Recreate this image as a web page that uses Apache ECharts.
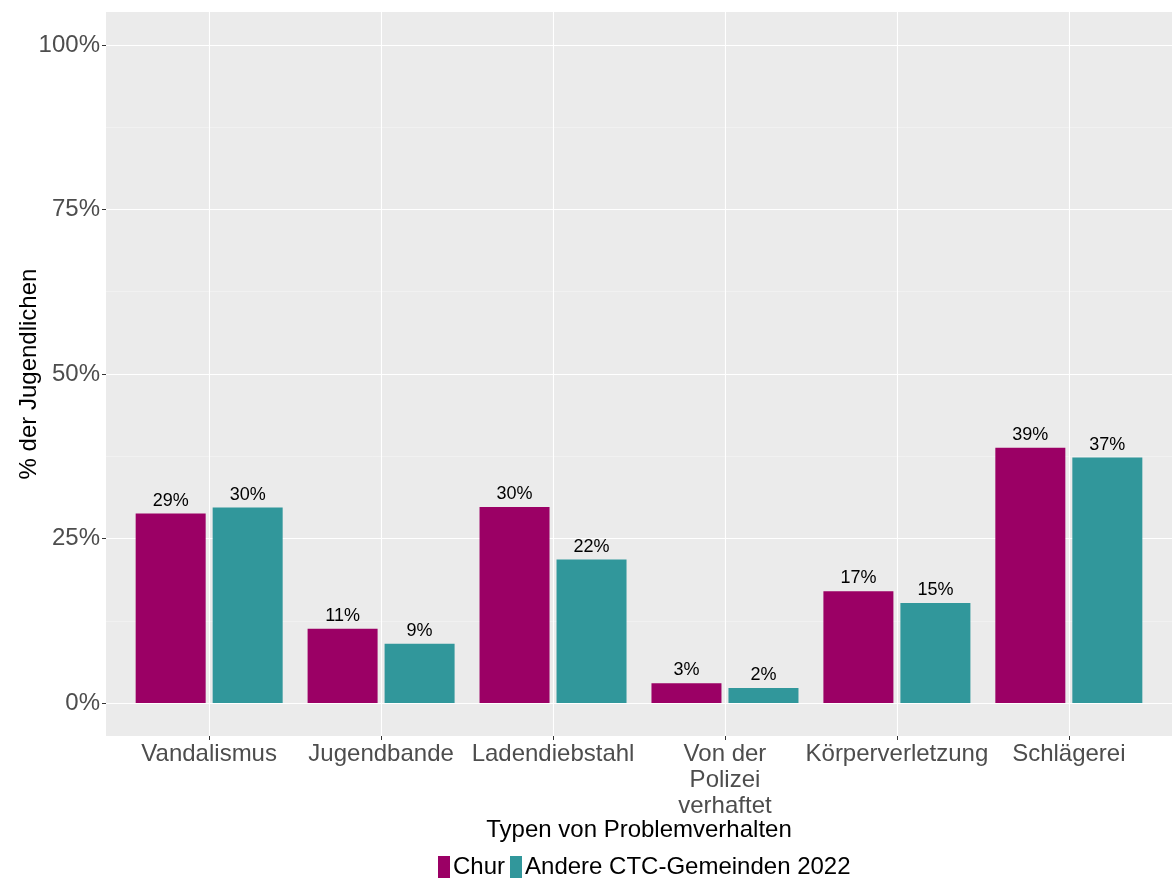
<!DOCTYPE html>
<html>
<head>
<meta charset="utf-8">
<script src="https://cdn.jsdelivr.net/npm/echarts@6/dist/echarts.min.js"></script>
<style>
  html, body { margin: 0; padding: 0; background: #fff; }
  #chart { width: 1172px; height: 884px; }
</style>
</head>
<body>
<div id="chart"></div>
<script>
// Daten
const categories = ['Vandalismus', 'Jugendbande', 'Ladendiebstahl', 'Von der\nPolizei\nverhaftet', 'Körperverletzung', 'Schlägerei'];
const churValues = [28.8, 11.3, 29.8, 3.0, 17.0, 38.8];
const andereValues = [29.7, 9.0, 21.8, 2.3, 15.2, 37.3];
const yTicks = [0, 25, 50, 75, 100];
const yMinor = [12.5, 37.5, 62.5, 87.5];
const seriesNames = ['Chur', 'Andere CTC-Gemeinden 2022'];

const chart = echarts.init(document.getElementById('chart'));

const positions = categories.map((c, i) => i + 1);
const toPairs = vals => vals.map((v, i) => [i + 1, v]);

const labelStyle = {
    show: true,
    position: 'top',
    distance: 4,
    color: '#000',
    fontSize: 18,
    fontFamily: 'Liberation Sans',
    formatter: p => Math.round(p.value[1]) + '%'
};

chart.setOption({
    animation: false,
    textStyle: { fontFamily: 'Liberation Sans' },
    grid: {
        left: 106, right: 0, top: 12, bottom: 148,
        outerBoundsMode: 'none',
        containLabel: false,
        show: true, backgroundColor: '#EBEBEB', borderWidth: 0
    },
    legend: {
        left: 433, top: 850,
        itemWidth: 12, itemHeight: 22, itemGap: 5,
        icon: 'rect',
        textStyle: { fontSize: 24, color: '#000', padding: [0, 0, 0, -2] },
        data: seriesNames
    },
    xAxis: {
        type: 'value',
        min: 0.4, max: 6.6,
        name: 'Typen von Problemverhalten',
        nameLocation: 'middle',
        nameGap: 82,
        nameMoveOverlap: false,
        nameTextStyle: { fontSize: 24, color: '#000' },
        axisLine: { show: false, onZero: false },
        axisTick: { show: true, length: 4, lineStyle: { color: '#333' }, customValues: positions },
        axisLabel: {
            customValues: positions,
            fontSize: 24, color: '#4D4D4D', lineHeight: 26, margin: 5,
            formatter: v => categories[Math.round(v) - 1]
        },
        splitLine: { show: true, lineStyle: { color: '#fff', width: 1.1 } }
    },
    yAxis: [{
        type: 'value',
        min: -5, max: 105,
        name: '% der Jugendlichen',
        nameLocation: 'middle',
        nameGap: 65,
        nameMoveOverlap: false,
        nameTextStyle: { fontSize: 24, color: '#000' },
        axisLine: { show: false, onZero: false },
        axisTick: { show: true, length: 4, lineStyle: { color: '#333' }, customValues: yTicks },
        axisLabel: {
            customValues: yTicks,
            fontSize: 24, color: '#4D4D4D', margin: 6,
            formatter: v => v + '%'
        },
        splitLine: { show: true, lineStyle: { color: '#fff', width: 1.1 } }
    }, {
        type: 'value',
        min: -5, max: 105,
        position: 'left',
        axisLine: { show: false, onZero: false },
        axisTick: { show: false, customValues: yMinor },
        axisLabel: { show: false, customValues: yMinor },
        splitLine: { show: true, lineStyle: { color: '#F5F5F5', width: 0.6 } }
    }],
    series: [{
        name: seriesNames[0],
        type: 'bar',
        data: toPairs(churValues),
        barWidth: 70,
        barGap: '10%',
        itemStyle: { color: '#9B0065' },
        label: labelStyle
    }, {
        name: seriesNames[1],
        type: 'bar',
        data: toPairs(andereValues),
        barWidth: 70,
        barGap: '10%',
        itemStyle: { color: '#31979B' },
        label: labelStyle
    }]
});
</script>
</body>
</html>
